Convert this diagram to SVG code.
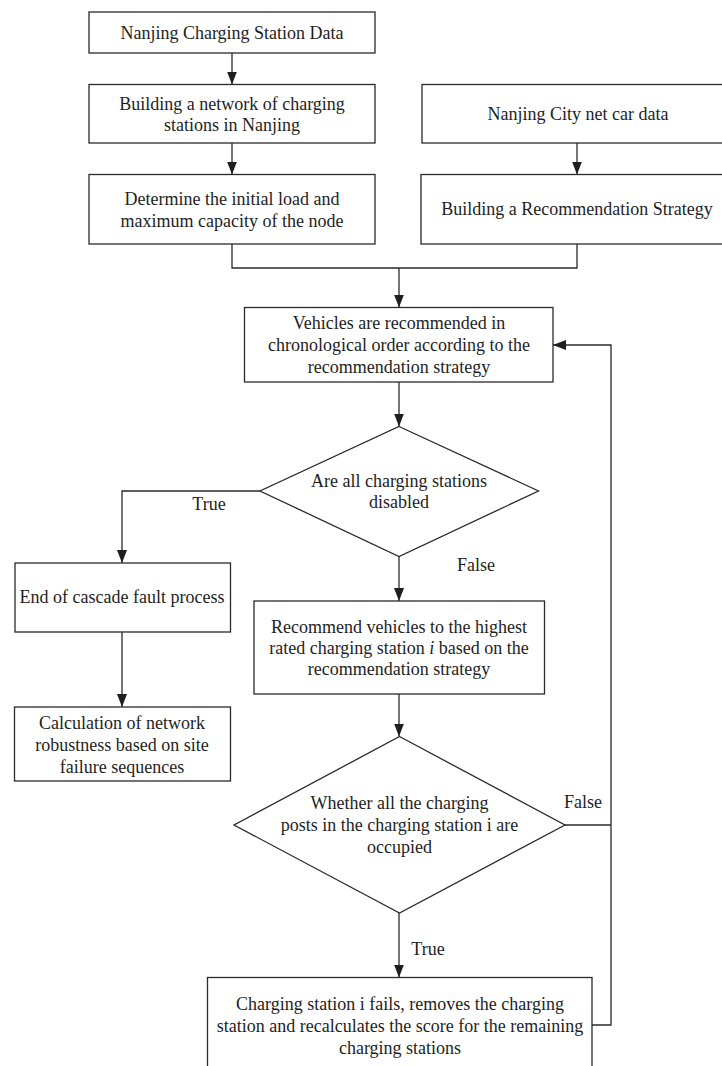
<svg xmlns="http://www.w3.org/2000/svg" width="722" height="1066" viewBox="0 0 722 1066">
<defs>
<style>
.box{fill:#fff;stroke:#2a2a2a;stroke-width:1.3}
.ln{fill:none;stroke:#2a2a2a;stroke-width:1.3}
text{font-family:"Liberation Serif","Times New Roman",serif;font-size:18px;fill:#1e1e1e;text-anchor:middle}
</style>
<marker id="ah" markerUnits="userSpaceOnUse" markerWidth="14" markerHeight="12" refX="13" refY="5" orient="auto">
<path d="M0,0 L13,5 L0,10 z" fill="#1e1e1e"/>
</marker>
</defs>
<rect width="722" height="1066" fill="#fff"/>
<g id="connectors">
<line class="ln" x1="232" y1="53" x2="232" y2="84.5" marker-end="url(#ah)"/>
<line class="ln" x1="232" y1="143" x2="232" y2="174.5" marker-end="url(#ah)"/>
<line class="ln" x1="577" y1="143" x2="577" y2="174.5" marker-end="url(#ah)"/>
<polyline class="ln" points="232,244 232,268 577,268 577,244"/>
<line class="ln" x1="399" y1="268" x2="399" y2="307.5" marker-end="url(#ah)"/>
<line class="ln" x1="399" y1="382" x2="399" y2="426.5" marker-end="url(#ah)"/>
<polyline class="ln" points="260,491 122,491 122,563" marker-end="url(#ah)"/>
<line class="ln" x1="399" y1="556.5" x2="399" y2="601" marker-end="url(#ah)"/>
<line class="ln" x1="122" y1="632" x2="122" y2="707" marker-end="url(#ah)"/>
<line class="ln" x1="399" y1="694" x2="399" y2="736.5" marker-end="url(#ah)"/>
<line class="ln" x1="399" y1="913" x2="399" y2="977.5" marker-end="url(#ah)"/>
<polyline class="ln" points="565,825 611,825"/>
<polyline class="ln" points="592,1025 611,1025 611,345 553,345" marker-end="url(#ah)"/>
</g>
<g id="n1"><rect class="box" x="89" y="12" width="286" height="41"/><text x="232" y="38.5">Nanjing Charging Station Data</text></g>
<g id="n2"><rect class="box" x="89" y="84.5" width="286" height="58.5"/><text x="232" y="110">Building a network of charging</text><text x="232" y="131">stations in Nanjing</text></g>
<g id="n3"><rect class="box" x="89" y="174.5" width="286" height="69.5"/><text x="232" y="205">Determine the initial load and</text><text x="232" y="227">maximum capacity of the node</text></g>
<g id="n4"><rect class="box" x="422" y="84.5" width="312" height="58.5"/><text x="578" y="119.5">Nanjing City net car data</text></g>
<g id="n5"><rect class="box" x="421" y="174.5" width="313" height="69.5"/><text x="577" y="215">Building a Recommendation Strategy</text></g>
<g id="n6"><rect class="box" x="244.5" y="307.5" width="308.5" height="74.5"/><text x="399" y="329">Vehicles are recommended in</text><text x="399" y="351">chronological order according to the</text><text x="399" y="372.5">recommendation strategy</text></g>
<g id="d1"><polygon class="box" points="399,426.5 538.5,491 399,556.5 260,491"/><text x="399" y="486.5">Are all charging stations</text><text x="399" y="508">disabled</text></g>
<g id="l1"><text x="209" y="510">True</text></g>
<g id="l2"><text x="476" y="571">False</text></g>
<g id="n7"><rect class="box" x="15" y="563" width="215.5" height="69"/><text x="122" y="603">End of cascade fault process</text></g>
<g id="n8"><rect class="box" x="254" y="601" width="290.5" height="93"/><text x="399" y="632.5">Recommend vehicles to the highest</text><text x="399" y="653.5">rated charging station <tspan font-style="italic">i</tspan> based on the</text><text x="399" y="675">recommendation strategy</text></g>
<g id="n9"><rect class="box" x="14.5" y="707" width="216" height="74"/><text x="122" y="729">Calculation of network</text><text x="122" y="751">robustness based on site</text><text x="122" y="772.5">failure sequences</text></g>
<g id="d2"><polygon class="box" points="399.5,736.5 565,825 399.5,913 234,825"/><text x="399.5" y="809">Whether all the charging</text><text x="399.5" y="831">posts in the charging station i are</text><text x="399.5" y="852.5">occupied</text></g>
<g id="l3"><text x="583" y="807.5">False</text></g>
<g id="l4"><text x="428" y="955">True</text></g>
<g id="n10"><rect class="box" x="207.5" y="977.5" width="384.5" height="100"/><text x="400" y="1010">Charging station i fails, removes the charging</text><text x="400" y="1032">station and recalculates the score for the remaining</text><text x="400" y="1053.5">charging stations</text></g>
</svg>
